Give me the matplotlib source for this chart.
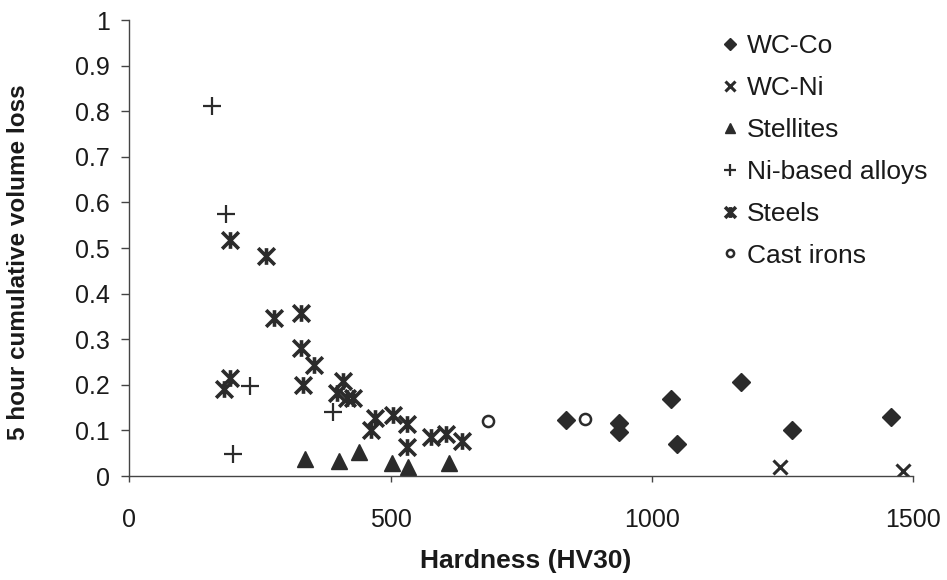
import matplotlib
matplotlib.use("Agg")
import matplotlib.pyplot as plt
from matplotlib.path import Path

plt.rcParams['font.family'] = ['Liberation Sans', 'DejaVu Sans']

# Hardness (HV30) and 5 hour cumulative volume loss per material class
wcco_x = [835, 936, 936, 1036, 1047, 1170, 1268, 1457]
wcco_y = [0.123, 0.116, 0.097, 0.169, 0.071, 0.206, 0.101, 0.130]

wcni_x = [1245, 1481]
wcni_y = [0.020, 0.011]

stellite_x = [336, 402, 439, 502, 533, 612]
stellite_y = [0.037, 0.034, 0.052, 0.028, 0.020, 0.028]

nialloy_x = [158, 185, 231, 389, 199]
nialloy_y = [0.812, 0.575, 0.197, 0.140, 0.048]

steel_x = [193, 262, 277, 328, 328, 354, 193, 181, 333, 408, 397, 416, 428,
           470, 462, 505, 532, 532, 577, 606, 636]
steel_y = [0.518, 0.482, 0.346, 0.357, 0.281, 0.243, 0.216, 0.190, 0.200,
           0.208, 0.181, 0.170, 0.171, 0.127, 0.101, 0.133, 0.114, 0.064,
           0.086, 0.092, 0.077]

castiron_x = [687, 872]
castiron_y = [0.121, 0.125]

x_ticks = [0, 500, 1000, 1500]
y_ticks = [0, 0.1, 0.2, 0.3, 0.4, 0.5, 0.6, 0.7, 0.8, 0.9, 1]
y_ticklabels = ['0', '0.1', '0.2', '0.3', '0.4', '0.5', '0.6', '0.7', '0.8', '0.9', '1']

ink = '#2b2b2b'

# asterisk-like star: X with a vertical stroke
star = Path([(-1, -1), (1, 1), (-1, 1), (1, -1), (0, -1), (0, 1)],
            [Path.MOVETO, Path.LINETO, Path.MOVETO, Path.LINETO,
             Path.MOVETO, Path.LINETO])

fig = plt.figure(figsize=(9.47, 5.8), dpi=100)
ax = fig.add_axes([0.1365, 0.1793, 0.828, 0.7862])

ax.plot(wcco_x, wcco_y, ls='none', marker='D', ms=9, color=ink,
        mec=ink, label='WC-Co')
ax.plot(wcni_x, wcni_y, ls='none', marker='x', ms=10, mew=2.2, color=ink,
        label='WC-Ni')
ax.plot(stellite_x, stellite_y, ls='none', marker='^', ms=11, color=ink,
        mec=ink, label='Stellites')
ax.plot(nialloy_x, nialloy_y, ls='none', marker='+', ms=13, mew=1.6,
        color=ink, label='Ni-based alloys')
ax.plot(steel_x, steel_y, ls='none', marker=star, ms=12, mew=2.6,
        color=ink, mfc='none', label='Steels')
ax.plot(castiron_x, castiron_y, ls='none', marker='o', ms=8, mew=1.8,
        color=ink, mfc='white', label='Cast irons')

ax.set_xlim(0, 1500)
ax.set_ylim(0, 1)
ax.set_xticks(x_ticks)
ax.set_yticks(y_ticks)
ax.set_yticklabels(y_ticklabels)

for side in ('top', 'right'):
    ax.spines[side].set_visible(False)
for side in ('left', 'bottom'):
    ax.spines[side].set_color('#444444')
    ax.spines[side].set_linewidth(1.0)

ax.tick_params(axis='y', direction='out', length=6, width=1, color='#444444',
               pad=8, labelsize=18, labelcolor='#1a1a1a')
ax.tick_params(axis='x', direction='out', length=4, width=1, color='#444444',
               pad=19, labelsize=18, labelcolor='#1a1a1a')

ax.set_xlabel('Hardness (HV30)', fontsize=19, fontweight='bold',
              color='#1a1a1a')
ax.set_ylabel('5 hour cumulative volume loss', fontsize=17.5,
              fontweight='bold', color='#1a1a1a')
ax.xaxis.set_label_coords(0.505, -0.16)
ax.yaxis.set_label_coords(-0.127, 0.469)

leg = ax.legend(loc='upper left', bbox_to_anchor=(722 / 947, 1 - 34 / 580),
                bbox_transform=fig.transFigure, frameon=False, fontsize=19,
                handlelength=0.6, handletextpad=0.35, labelspacing=0.68,
                borderpad=0, borderaxespad=0, markerscale=0.65)
for t in leg.get_texts():
    t.set_color('#1a1a1a')

fig.savefig('out.png', dpi=100)
